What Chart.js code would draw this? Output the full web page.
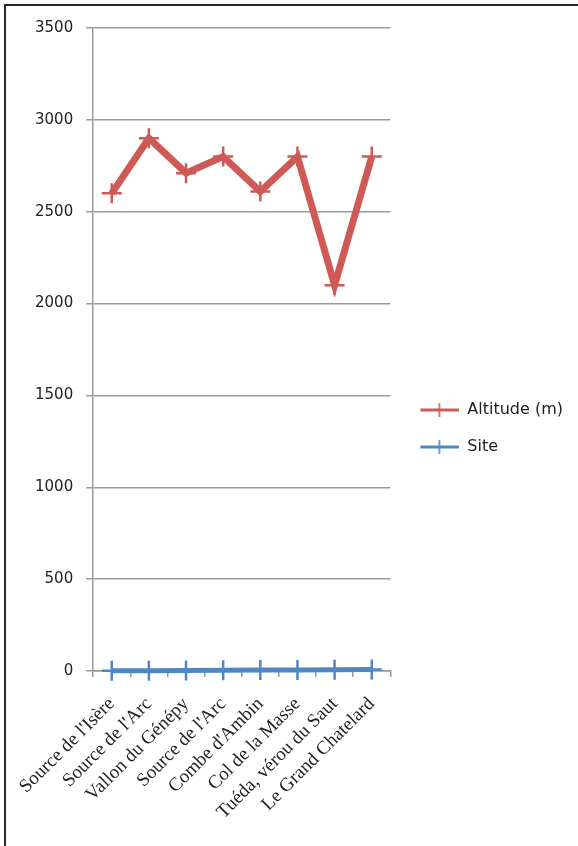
<!DOCTYPE html>
<html>
<head>
<meta charset="utf-8">
<script src="https://cdn.jsdelivr.net/npm/chart.js@4/dist/chart.umd.min.js"></script>
<style>
  html, body { margin: 0; padding: 0; background: #fff; }
  #frame {
    position: absolute; left: 4px; top: 4px;
    width: 572px; height: 840px;
    border-top: 2px solid #2a2a2a; border-left: 2px solid #2a2a2a;
  }
  #wrap { position: relative; width: 572px; height: 840px; }
</style>
</head>
<body>
<div id="frame"><div id="wrap"><canvas id="c"></canvas></div></div>
<script>
// Sites along the route, in order
const sites = [
  "Source de l'Isère",
  "Source de l'Arc",
  "Vallon du Génépy",
  "Source de l'Arc",
  "Combe d'Ambin",
  "Col de la Masse",
  "Tuéda, vérou du Saut",
  "Le Grand Chatelard"
];
// Altitude of each site, metres
const altitude = [2600, 2900, 2710, 2800, 2610, 2800, 2100, 2800];
// Site number
const siteNumber = [1, 2, 3, 4, 5, 6, 7, 8];
// Value axis ticks
const yTicks = [0, 500, 1000, 1500, 2000, 2500, 3000, 3500];

const RED = '#cf5a55';
const BLUE = '#4f86c8';

// Small legend swatch: a thick line with a cross marker
function swatch(color) {
  const cv = document.createElement('canvas');
  cv.width = 48; cv.height = 18;
  const g = cv.getContext('2d');
  g.strokeStyle = color;
  g.lineWidth = 3;
  g.beginPath(); g.moveTo(9, 9); g.lineTo(48, 9); g.stroke();
  g.lineWidth = 1.6;
  g.beginPath(); g.moveTo(28, 2); g.lineTo(28, 16); g.stroke();
  return cv;
}

new Chart(document.getElementById('c'), {
  type: 'line',
  data: {
    labels: sites,
    datasets: [
      {
        label: 'Altitude (m)',
        data: altitude,
        borderColor: RED,
        backgroundColor: RED,
        borderWidth: 7,
        pointStyle: 'cross',
        pointRadius: 10,
        pointBorderWidth: 2.5,
        pointBorderColor: RED,
        tension: 0,
        clip: false,
        _swatch: swatch(RED)
      },
      {
        label: 'Site',
        data: siteNumber,
        borderColor: BLUE,
        backgroundColor: BLUE,
        borderWidth: 5,
        pointStyle: 'cross',
        pointRadius: 10,
        pointBorderWidth: 2.5,
        pointBorderColor: BLUE,
        tension: 0,
        clip: false,
        _swatch: swatch(BLUE)
      }
    ]
  },
  options: {
    responsive: true,
    maintainAspectRatio: false,
    animation: false,
    layout: { padding: { left: 16, top: 12, right: 5, bottom: 7 } },
    plugins: {
      tooltip: { enabled: false },
      legend: {
        position: 'right',
        align: 'center',
        maxWidth: 260,
        labels: {
          usePointStyle: true,
          pointStyleWidth: 48,
          padding: 21,
          color: '#222',
          font: { family: 'DejaVu Sans', size: 16 },
          generateLabels(chart) {
            return chart.data.datasets.map((ds, i) => ({
              text: ds.label,
              datasetIndex: i,
              pointStyle: ds._swatch,
              fontColor: '#222',
              hidden: false,
              lineWidth: 0,
              strokeStyle: ds.borderColor,
              fillStyle: ds.borderColor
            }));
          }
        }
      }
    },
    scales: {
      x: {
        offset: true,
        afterFit(scale) {
          // rotated names hang below the axis; let them spill left of the plot
          scale.paddingLeft = 0;
          scale.height = 168;
        },
        grid: {
          offset: true,
          drawOnChartArea: false,
          drawTicks: true,
          tickLength: 6,
          color: '#999',
          lineWidth: 1.5
        },
        border: { color: '#999', width: 1.5 },
        ticks: {
          autoSkip: false,
          minRotation: 45,
          maxRotation: 45,
          padding: 16,
          color: '#222',
          font: { family: 'Liberation Serif', size: 19 }
        }
      },
      y: {
        min: 0,
        max: 3500,
        afterBuildTicks(scale) {
          scale.ticks = yTicks.map(v => ({ value: v }));
        },
        grid: {
          color: '#9a9a9a',
          lineWidth: 1.5,
          drawTicks: true,
          tickLength: 7
        },
        border: { color: '#9a9a9a', width: 1.5 },
        ticks: {
          padding: 13,
          color: '#222',
          font: { family: 'DejaVu Sans', size: 15 },
          callback: v => String(v)
        }
      }
    }
  }
});
</script>
</body>
</html>
